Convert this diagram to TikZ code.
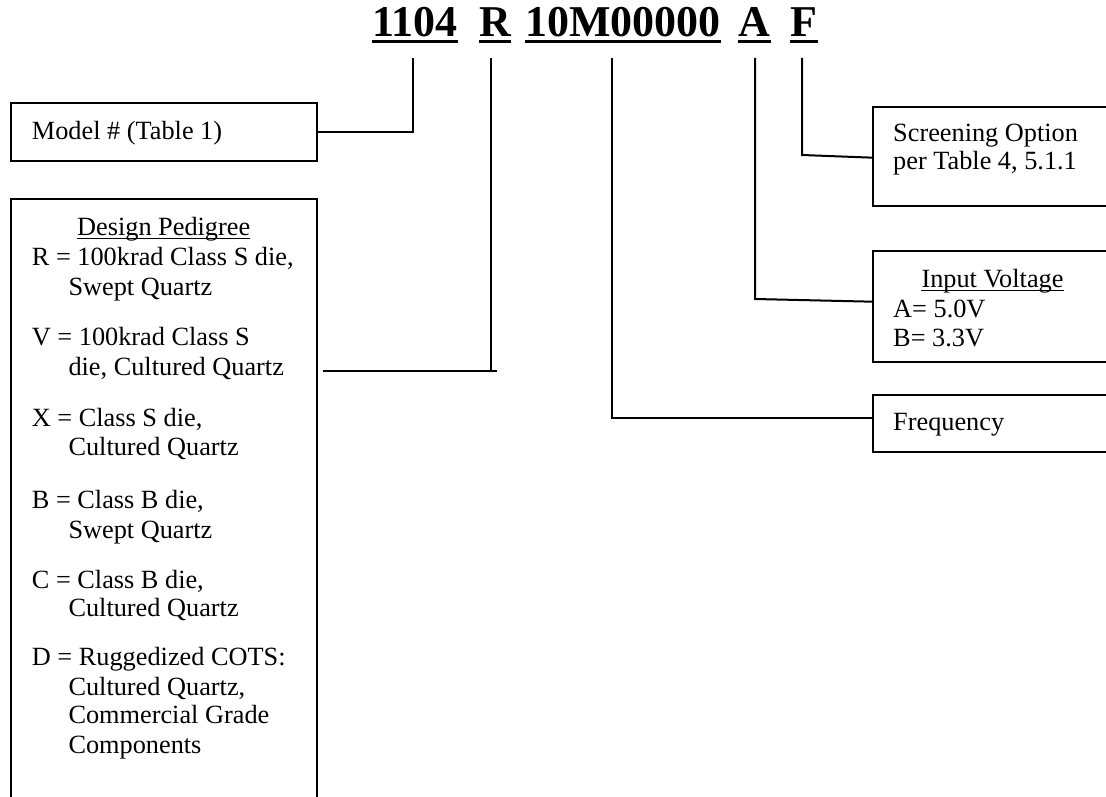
\documentclass[tikz,border=0pt]{standalone}
\usepackage{fontspec}
\setmainfont{Liberation Serif}
\begin{document}
\begin{tikzpicture}[x=1pt,y=-1pt,
  box/.style={draw, rectangle, inner sep=0pt, line width=2pt},
  txt/.style={anchor=base west, inner sep=0pt, font=\fontsize{26.3}{30}\selectfont},
  ctxt/.style={anchor=base, inner sep=0pt, font=\fontsize{26.3}{30}\selectfont},
  ttl/.style={anchor=base, inner sep=0pt, font=\fontsize{44}{50}\selectfont\bfseries},
  wire/.style={line width=2pt},
  tul/.style={line width=3pt},
  sul/.style={line width=1.3pt}]
\useasboundingbox (0,0) rectangle (1106,797);
\clip (0,0) rectangle (1106,797);

% title
\node[ttl] (t1104) at (415,36.7) {1104};
\node[ttl] (tR) at (495.3,36.7) {R};
\node[ttl] (tfreq) at (623,36.7) {10M00000};
\node[ttl] (tA) at (754.5,36.7) {A};
\node[ttl] (tF) at (804,36.7) {F};
\foreach \n in {t1104,tR,tfreq,tA,tF}
  \draw[tul] ([yshift=-5pt]\n.base west) -- ([yshift=-5pt]\n.base east);

% tick tops
\coordinate (k1) at (413,58);
\coordinate (k2) at (491,58);
\coordinate (k3) at (611.5,58);
\coordinate (k4) at (755,58);
\coordinate (k5) at (802,58);

% boxes
\node[box, minimum width=306pt, minimum height=58pt] (model) at (164,132) {};
\node[box, minimum width=306pt, minimum height=640pt] (ped) at (164,519) {};
\node[box, minimum width=260pt, minimum height=99pt] (scr) at (1003,156.5) {};
\node[box, minimum width=260pt, minimum height=111pt] (volt) at (1003,306.5) {};
\node[box, minimum width=260pt, minimum height=57pt] (freq) at (1003,423.5) {};

% box texts
\node[txt] (modeltxt) at (31.7,140) {Model \# (Table 1)};

\node[ctxt] (pedh) at (163.7,235) {Design Pedigree};
\draw[sul] ([yshift=-3.3pt]pedh.base west) -- ([yshift=-3.3pt]pedh.base east);
\node[txt] (pR1) at (31.7,265) {R = 100krad Class S die,};
\node[txt] (pR2) at (68.3,295) {Swept Quartz};
\node[txt] (pV1) at (31.7,345) {V = 100krad Class S};
\node[txt] (pV2) at (68.3,375) {die, Cultured Quartz};
\node[txt] (pX1) at (31.7,426) {X = Class S die,};
\node[txt] (pX2) at (68.3,455) {Cultured Quartz};
\node[txt] (pB1) at (31.7,508) {B = Class B die,};
\node[txt] (pB2) at (68.3,538) {Swept Quartz};
\node[txt] (pC1) at (31.7,588) {C = Class B die,};
\node[txt] (pC2) at (68.3,616) {Cultured Quartz};
\node[txt] (pD1) at (31.7,665) {D = Ruggedized COTS:};
\node[txt] (pD2) at (68.3,695) {Cultured Quartz,};
\node[txt] (pD3) at (68.3,723) {Commercial Grade};
\node[txt] (pD4) at (68.3,753) {Components};

\node[txt] (scr1) at (893,141.7) {Screening Option};
\node[txt] (scr2) at (893,170) {per Table 4, 5.1.1};

\node[ctxt] (volth) at (992.5,287.3) {Input Voltage};
\draw[sul] ([yshift=-3.3pt]volth.base west) -- ([yshift=-3.3pt]volth.base east);
\node[txt] (voltA) at (893,317.3) {A= 5.0V};
\node[txt] (voltB) at (893,346.7) {B= 3.3V};

\node[txt] (freqtxt) at (893,430) {Frequency};

% connectors
\coordinate (rA) at (323,371);
\coordinate (rB) at (497,371);
\coordinate (fj) at (873,418.3);
\coordinate (vj) at (755,299);
\coordinate (ve) at (873,301.7);
\coordinate (sj) at (802,155);
\coordinate (se) at (873,157.7);

\draw[wire] (model.east) -| (k1);
\draw[wire] (rA) -- (rB);
\draw[wire] (k2) -- (k2|-rA);
\draw[wire] (k3) |- (fj);
\draw[wire] (k4) -- (vj) -- (ve);
\draw[wire] (k5) -- (sj) -- (se);
\end{tikzpicture}
\end{document}
